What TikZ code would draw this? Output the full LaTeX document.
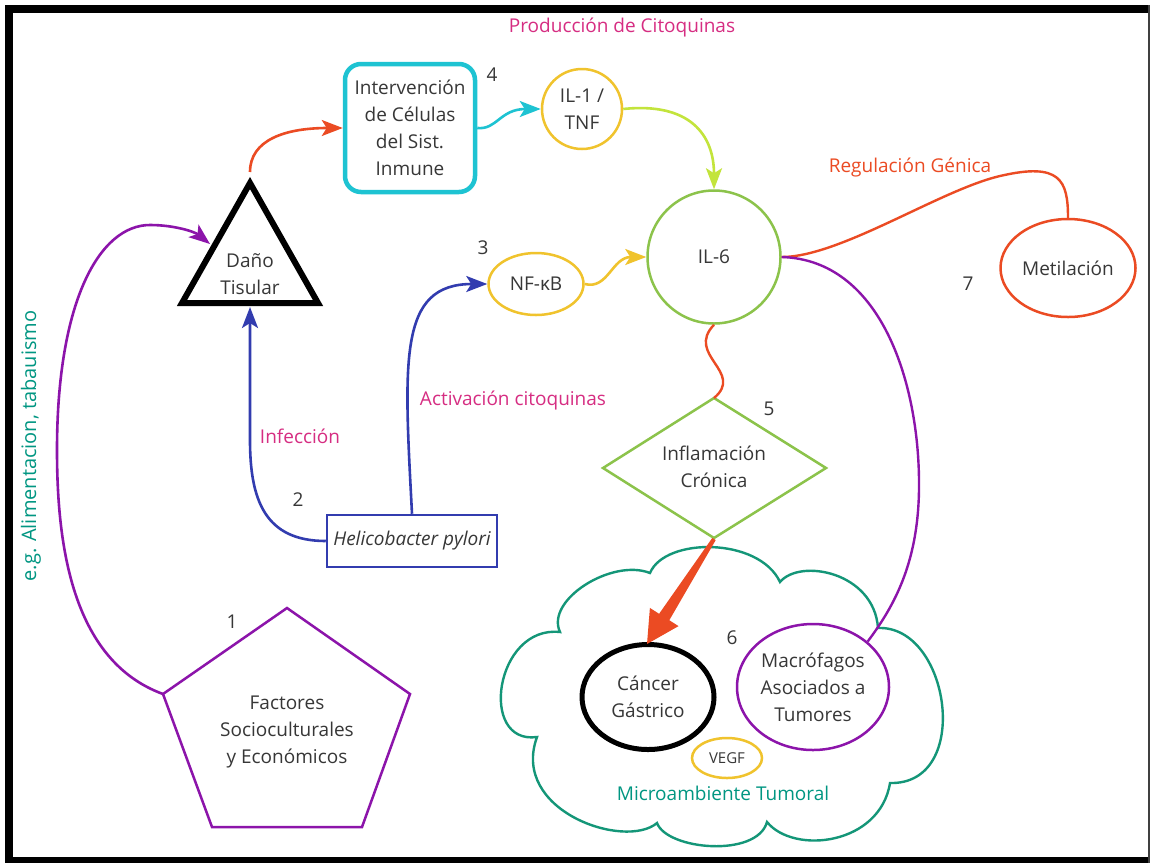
\documentclass[tikz,border=0pt]{standalone}
\usepackage{fontspec}
\setmainfont{Open Sans}
\usetikzlibrary{shapes.geometric,arrows.meta}
\definecolor{txt}{RGB}{55,55,55}
\definecolor{mag}{RGB}{214,45,130}
\definecolor{tealc}{RGB}{0,150,130}
\definecolor{purp}{RGB}{140,20,170}
\definecolor{blu}{RGB}{50,60,175}
\definecolor{redo}{RGB}{235,75,35}
\definecolor{cyn}{RGB}{30,195,210}
\definecolor{yel}{RGB}{240,195,45}
\definecolor{grn}{RGB}{140,195,75}
\definecolor{ygrn}{RGB}{195,228,60}
\definecolor{cloudc}{RGB}{20,150,120}
\begin{document}
\begin{tikzpicture}[x=1pt,y=-1pt,
  font=\fontsize{19}{27}\selectfont, text=txt,
  lab/.style={align=center, inner sep=0pt},
  arr/.style={line width=2.6pt, -{Stealth[length=21pt,width=16pt,inset=5pt]}},
  conn/.style={line width=2.4pt},
  shp/.style={line width=2.5pt, inner sep=0pt, align=center},
]
\useasboundingbox (0,0) rectangle (1150,863);
\fill[white] (0,0) rectangle (1150,863);
% frame
\fill[black] (5,5) rectangle (1150,13);
\fill[black] (5,5) rectangle (13,863);
\fill[black] (5,857) rectangle (1150,863);
\fill[black!75] (1148,5) rectangle (1150,863);

% nodes
\node[shp, draw=cyn, line width=4.5pt, rounded corners=16pt, minimum width=130pt, minimum height=128pt] (imm) at (410,128) {Intervención\\de Células\\del Sist.\\Inmune};
\node[shp, circle, draw=yel, minimum size=80pt] (il1) at (582,109) {IL-1 /\\TNF};
\node[shp, ellipse, draw=yel, minimum width=95pt, minimum height=62pt] (nf) at (536,284) {NF-κB};
\node[shp, circle, draw=grn, minimum size=133pt] (il6) at (714,257) {IL-6};
\node[shp, ellipse, draw=redo, minimum width=135pt, minimum height=98pt] (met) at (1068,268) {Metilación};
\node[shp, draw=blu, minimum width=170pt, minimum height=52pt, font=\fontsize{19}{27}\selectfont\itshape] (hp) at (412,541) {Helicobacter pylori};
\node[shp, ellipse, draw=black, line width=5pt, minimum width=132pt, minimum height=105pt] (cancer) at (648,697) {Cáncer\\Gástrico};
\node[shp, ellipse, draw=purp, minimum width=152pt, minimum height=126pt] (macro) at (813,687) {Macrófagos\\Asociados a\\Tumores};
\node[shp, ellipse, draw=yel, minimum width=70pt, minimum height=40pt, font=\fontsize{15}{18}\selectfont] (vegf) at (727,758) {VEGF};

% triangle
\coordinate (triA) at (250,183);
\coordinate (triL) at (182,303);
\coordinate (triR) at (318,303);
\coordinate (triTop) at (250,172);
\coordinate (triB) at (250,307);
\coordinate (triLeft) at (210,244);
\draw[line width=6pt, line join=miter] (triA) -- (triR) -- (triL) -- cycle;
\node[lab] (dano) at (250,274) {Daño\\Tisular};

% pentagon
\coordinate (pT) at (287,608);
\coordinate (pL) at (163,694);
\coordinate (pR) at (410,694);
\coordinate (pBL) at (212,827);
\coordinate (pBR) at (362,827);
\draw[purp, line width=2.5pt, line join=miter] (pT) -- (pR) -- (pBR) -- (pBL) -- (pL) -- cycle;
\node[lab] (fact) at (287,732) {Factores\\Socioculturales\\y Económicos};

% diamond
\coordinate (dTop) at (714,398);
\coordinate (dR) at (826,468);
\coordinate (dBot) at (714,538);
\coordinate (dL) at (603,468);
\draw[grn, line width=2.5pt, line join=miter] (dTop) -- (dR) -- (dBot) -- (dL) -- cycle;
\node[lab] (infl) at (714,467) {Inflamación\\Crónica};

% cloud
\draw[cloudc, line width=2.4pt]
  (560,632) .. controls (545,600) and (612,558) .. (650,573)
  .. controls (665,537) and (759,537) .. (780,582)
  .. controls (800,558) and (874,572) .. (878,628)
  .. controls (950,625) and (973,785) .. (890,783)
  .. controls (880,845) and (794,855) .. (767,822)
  .. controls (757,858) and (667,850) .. (657,823)
  .. controls (625,850) and (510,811) .. (537,737)
  .. controls (478,745) and (495,625) .. (560,632) -- cycle;
\node[lab, text=tealc] (micro) at (723,793) {Microambiente Tumoral};

% big red arrow
\fill[redo] (715.7,540.1) -- (669.3,620.2) -- (678.5,626.1) -- (647,644)
  -- (649.9,607.9) -- (659.1,613.8) -- (712.3,537.9) -- cycle;

% connectors
\draw[arr, redo] (triTop) .. controls (250,140) and (285,128) .. (imm.west);
\draw[arr, cyn] (imm.east) .. controls (497,130) and (500,109) .. (il1.west);
\draw[arr, ygrn] (il1.east) .. controls (690,102) and (714,135) .. (il6.north);
\draw[arr, blu] (hp.north) .. controls (404,360) and (398,284) .. (nf.west);
\draw[arr, yel] (nf.east) .. controls (608,290) and (612,257) .. (il6.west);
\draw[arr, blu] (hp.west) .. controls (265,541) and (250,500) .. (250,440) -- (triB);
\draw[arr, purp] (pL) .. controls (70,660) and (57,540) .. (57,450)
  .. controls (57,300) and (100,225) .. (150,225)
  .. controls (175,225) and (195,232) .. (triLeft);
\draw[conn, redo] (il6.east) .. controls (840,257) and (940,190) .. (1000,176)
  .. controls (1060,162) and (1068,180) .. (met.north);
\draw[conn, redo] (il6.south) .. controls (685,355) and (745,372) .. (dTop);
\draw[conn, purp] (il6.east) .. controls (880,260) and (918,380) .. (919,480)
  .. controls (920,560) and (895,605) .. (macro.north east);

% labels
\node[lab, text=mag] (prod) at (622,27) {Producción de Citoquinas};
\node[lab, text=redo] (reg) at (910,167) {Regulación Génica};
\node[lab, text=mag] (act) at (513,400) {Activación citoquinas};
\node[lab, text=mag] (infec) at (300,436) {Infección};
\node[lab, text=tealc, rotate=90, font=\fontsize{20}{24}\selectfont] (eg) at (31,446) {e.g. Alimentacion, tabauismo};
\node[lab] (n1) at (232,622) {1};
\node[lab] (n2) at (298,500) {2};
\node[lab] (n3) at (483,248) {3};
\node[lab] (n4) at (492,75) {4};
\node[lab] (n5) at (769,409) {5};
\node[lab] (n6) at (732,638) {6};
\node[lab] (n7) at (968,284) {7};
\end{tikzpicture}
\end{document}
